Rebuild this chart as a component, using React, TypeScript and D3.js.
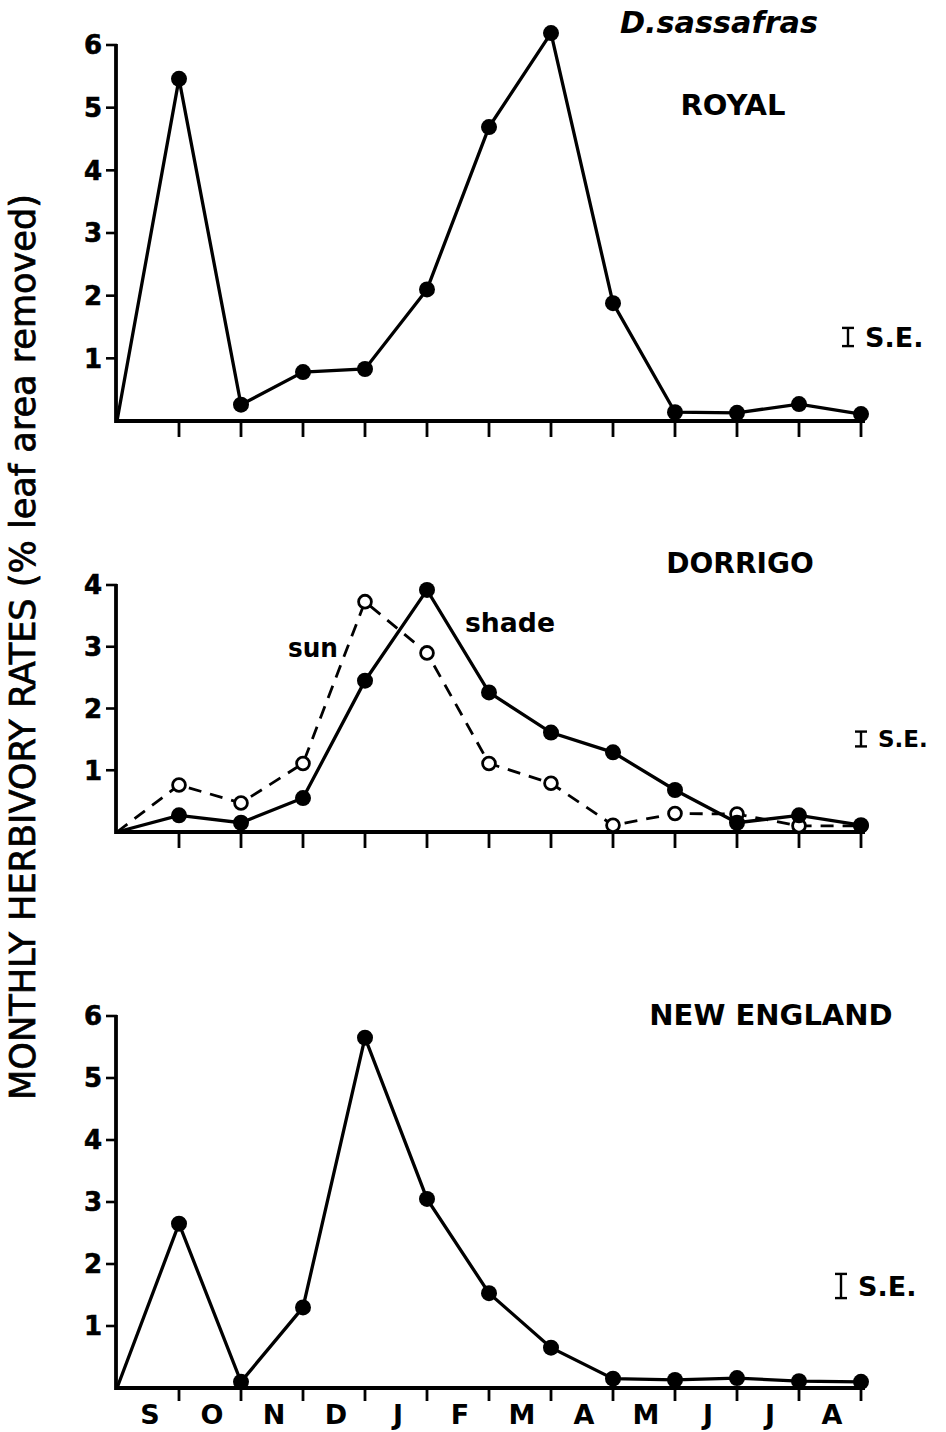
import React from "react";
import * as d3 from "d3";

// ---- data ----
const months = ["S", "O", "N", "D", "J", "F", "M", "A", "M", "J", "J", "A"];
const royal = [0, 5.46, 0.26, 0.78, 0.83, 2.1, 4.69, 6.19, 1.88, 0.14, 0.13, 0.27, 0.11];
const dorrigoShade = [0, 0.27, 0.15, 0.55, 2.45, 3.92, 2.26, 1.61, 1.29, 0.68, 0.15, 0.27, 0.11];
const dorrigoSun = [0, 0.76, 0.47, 1.11, 3.73, 2.9, 1.11, 0.79, 0.11, 0.3, 0.29, 0.1, 0.1];
const newEngland = [0, 2.65, 0.1, 1.3, 5.65, 3.05, 1.53, 0.65, 0.15, 0.13, 0.16, 0.11, 0.1];
const ticksSix = [1, 2, 3, 4, 5, 6];
const ticksFour = [1, 2, 3, 4];
const seValues = [0.29, 0.24, 0.39];
const siteNames = ["ROYAL", "DORRIGO", "NEW ENGLAND"];

const W = 946;
const H = 1432;
const FONT = "'DejaVu Sans', Verdana, sans-serif";

const x = d3.scaleLinear().domain([0, 12]).range([117, 861]);

type Series = { values: number[]; open?: boolean; dashed?: boolean };
type Panel = {
  name: string;
  max: number;
  ticks: number[];
  zeroY: number;
  topY: number;
  series: Series[];
  se: number;
  seX: number;
  seY: number;
  seFont: number;
  nameX: number;
  nameY: number;
  nameSize: number;
};

const panels: Panel[] = [
  {
    name: siteNames[0], max: 6, ticks: ticksSix, zeroY: 421, topY: 45,
    series: [{ values: royal }], se: seValues[0], seX: 848, seY: 337, seFont: 27,
    nameX: 733, nameY: 115, nameSize: 29,
  },
  {
    name: siteNames[1], max: 4, ticks: ticksFour, zeroY: 832, topY: 585,
    series: [{ values: dorrigoSun, open: true, dashed: true }, { values: dorrigoShade }],
    se: seValues[1], seX: 861, seY: 739, seFont: 23,
    nameX: 740, nameY: 573, nameSize: 28,
  },
  {
    name: siteNames[2], max: 6, ticks: ticksSix, zeroY: 1388, topY: 1016,
    series: [{ values: newEngland }], se: seValues[2], seX: 841, seY: 1286, seFont: 27,
    nameX: 771, nameY: 1025, nameSize: 29,
  },
];

function PanelView({ p, last }: { p: Panel; last: boolean }) {
  const y = d3.scaleLinear().domain([0, p.max]).range([p.zeroY, p.topY]);
  const line = d3
    .line<number>()
    .x((_, i) => x(i))
    .y((d) => y(d));
  const seLen = y(0) - y(p.se);
  return (
    <g>
      {/* axes */}
      <line x1={x(0) - 1} x2={x(0) - 1} y1={y(p.max) - 1} y2={y(0) + 2} stroke="#000" strokeWidth={3.8} />
      <line x1={x(0) - 2} x2={x(12) + 4} y1={y(0)} y2={y(0)} stroke="#000" strokeWidth={3.8} />
      {d3.range(1, 13).map((i) => (
        <line key={"xt" + i} x1={x(i)} x2={x(i)} y1={y(0)} y2={y(0) + (last ? 13 : 16)} stroke="#000" strokeWidth={2.8} />
      ))}
      {p.ticks.map((t) => (
        <g key={"yt" + t}>
          <line x1={x(0) - 11} x2={x(0)} y1={y(t)} y2={y(t)} stroke="#000" strokeWidth={2.6} />
          <text x={x(0) - 15} y={y(t)} dy="0.36em" textAnchor="end" fontFamily={FONT} fontWeight="bold" fontSize={26} fill="#000" stroke="#000" strokeWidth={0.6}>
            {t}
          </text>
        </g>
      ))}
      {/* series */}
      {p.series.map((s, si) => (
        <g key={"s" + si}>
          <path
            d={line(s.values) || ""}
            fill="none"
            stroke="#000"
            strokeWidth={s.dashed ? 2.8 : 3.3}
            strokeDasharray={s.dashed ? "13 9" : undefined}
          />
          {s.values.map((v, i) =>
            i === 0 ? null : s.open ? (
              <circle key={i} cx={x(i)} cy={y(v)} r={6.4} fill="#fff" stroke="#000" strokeWidth={2.8} />
            ) : (
              <circle key={i} cx={x(i)} cy={y(v)} r={8} fill="#000" />
            )
          )}
        </g>
      ))}
      {/* site name */}
      <text x={p.nameX} y={p.nameY} textAnchor="middle" fontFamily={FONT} fontWeight="bold" fontSize={p.nameSize} fill="#000">
        {p.name}
      </text>
      {/* S.E. key */}
      <g>
        <line x1={p.seX} x2={p.seX} y1={p.seY - seLen / 2} y2={p.seY + seLen / 2} stroke="#000" strokeWidth={2.4} />
        <line x1={p.seX - 6} x2={p.seX + 6} y1={p.seY - seLen / 2} y2={p.seY - seLen / 2} stroke="#000" strokeWidth={2.4} />
        <line x1={p.seX - 6} x2={p.seX + 6} y1={p.seY + seLen / 2} y2={p.seY + seLen / 2} stroke="#000" strokeWidth={2.4} />
        <text x={p.seX + 17} y={p.seY + p.seFont * 0.36} fontFamily={FONT} fontWeight="bold" fontSize={p.seFont} fill="#000">
          S.E.
        </text>
      </g>
    </g>
  );
}

export default function App() {
  const last = panels[panels.length - 1];
  const yBottom = d3.scaleLinear().domain([0, last.max]).range([last.zeroY, last.topY]);
  return (
    <svg
      width={W}
      height={H}
      viewBox={`0 0 ${W} ${H}`}
      style={{ position: "absolute", left: 0, top: 0, background: "#fff" }}
    >
      <rect x={0} y={0} width={W} height={H} fill="#fff" />
      <text x={620} y={33} fontFamily={FONT} fontWeight="bold" fontStyle="italic" fontSize={30} textLength={198} lengthAdjust="spacingAndGlyphs" fill="#000">
        D.sassafras
      </text>
      {panels.map((p, i) => (
        <PanelView key={p.name} p={p} last={i === panels.length - 1} />
      ))}
      {months.map((m, i) => (
        <text
          key={"m" + i}
          x={x(i + 0.5) + 2}
          y={yBottom(0) + 36}
          textAnchor="middle"
          fontFamily={FONT}
          fontWeight="bold"
          fontSize={27}
          fill="#000"
        >
          {m}
        </text>
      ))}
      {/* Dorrigo series labels */}
      <text x={288} y={657} fontFamily={FONT} fontWeight="bold" fontSize={26} textLength={50} lengthAdjust="spacingAndGlyphs" fill="#000">
        sun
      </text>
      <text x={465} y={632} fontFamily={FONT} fontWeight="bold" fontSize={27} textLength={90} lengthAdjust="spacingAndGlyphs" fill="#000">
        shade
      </text>
      {/* y-axis title */}
      <text
        transform="translate(35,647) rotate(-90)"
        textAnchor="middle"
        fontFamily="'Liberation Sans Narrow', 'DejaVu Sans Condensed', 'Liberation Sans', sans-serif"
        fontSize={36}
        textLength={906}
        lengthAdjust="spacingAndGlyphs"
        fill="#000"
        stroke="#000"
        strokeWidth={0.7}
      >
        MONTHLY HERBIVORY RATES (% leaf area removed)
      </text>
    </svg>
  );
}
